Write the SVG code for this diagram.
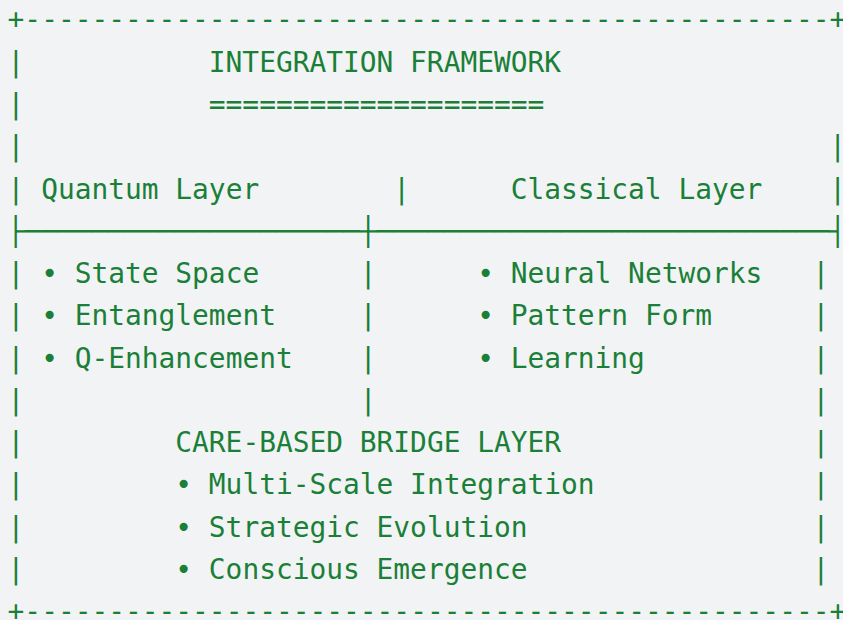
<svg xmlns="http://www.w3.org/2000/svg" width="843" height="620" viewBox="0 0 843 620">
  <style>
    .t { font-family: "DejaVu Sans Mono", "Liberation Mono", monospace; font-size: 27.86px; fill: #1a7f37; white-space: pre; }
  </style>
  <rect width="843" height="620" fill="#f2f3f5"/>

  <!-- outer frame and column rules, one glyph cell = 16.77px -->
  <g id="frame" class="t" xml:space="preserve">
    <text x="7.6" y="29.4">+------------------------------------------------+</text>
    <text x="7.6" y="71.7">|</text>
    <text x="7.6" y="114.0">|</text>
    <text x="7.6" y="156.2">|</text>
    <text x="829.33" y="156.2">|</text>
    <text x="7.6" y="198.5">|</text>
    <text x="393.31" y="198.5">|</text>
    <text x="829.33" y="198.5">|</text>
    <text x="7.6" y="240.8">├────────────────────┼───────────────────────────┤</text>
    <text x="7.6" y="283.1">|</text>
    <text x="359.77" y="283.1">|</text>
    <text x="812.56" y="283.1">|</text>
    <text x="7.6" y="325.3">|</text>
    <text x="359.77" y="325.3">|</text>
    <text x="812.56" y="325.3">|</text>
    <text x="7.6" y="367.6">|</text>
    <text x="359.77" y="367.6">|</text>
    <text x="812.56" y="367.6">|</text>
    <text x="7.6" y="409.9">|</text>
    <text x="359.77" y="409.9">|</text>
    <text x="812.56" y="409.9">|</text>
    <text x="7.6" y="452.1">|</text>
    <text x="812.56" y="452.1">|</text>
    <text x="7.6" y="494.4">|</text>
    <text x="812.56" y="494.4">|</text>
    <text x="7.6" y="536.7">|</text>
    <text x="812.56" y="536.7">|</text>
    <text x="7.6" y="578.9">|</text>
    <text x="812.56" y="578.9">|</text>
    <text x="7.6" y="621.2">+------------------------------------------------+</text>
  </g>

  <g id="title" class="t">
    <text x="208.84" y="71.7">INTEGRATION FRAMEWORK</text>
    <text x="208.84" y="114.0">====================</text>
  </g>

  <g id="quantum-layer" class="t" xml:space="preserve">
    <text x="41.14" y="198.5">Quantum Layer</text>
    <text x="41.14" y="283.1">• State Space</text>
    <text x="41.14" y="325.3">• Entanglement</text>
    <text x="41.14" y="367.6">• Q-Enhancement</text>
  </g>

  <g id="classical-layer" class="t" xml:space="preserve">
    <text x="510.7" y="198.5">Classical Layer</text>
    <text x="477.16" y="283.1">• Neural Networks</text>
    <text x="477.16" y="325.3">• Pattern Form</text>
    <text x="477.16" y="367.6">• Learning</text>
  </g>

  <g id="bridge-layer" class="t" xml:space="preserve">
    <text x="175.3" y="452.1">CARE-BASED BRIDGE LAYER</text>
    <text x="175.3" y="494.4">• Multi-Scale Integration</text>
    <text x="175.3" y="536.7">• Strategic Evolution</text>
    <text x="175.3" y="578.9">• Conscious Emergence</text>
  </g>
</svg>
